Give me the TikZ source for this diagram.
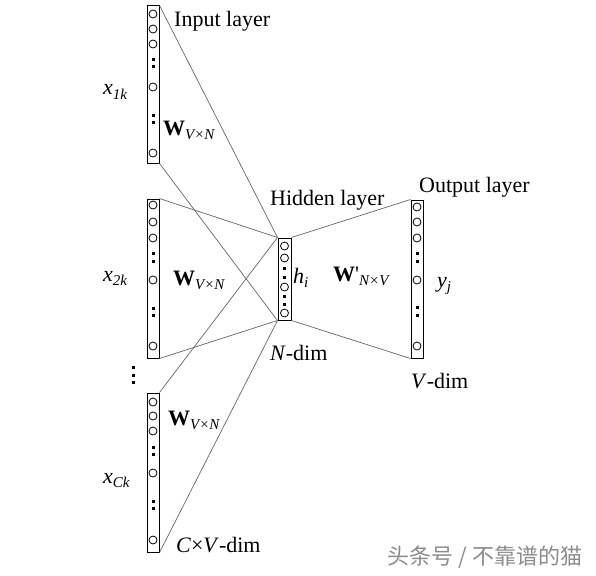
\documentclass[tikz,border=0pt]{standalone}
\usepackage{fontspec}
\setmainfont{Liberation Serif}
\newfontfamily\cjk{Noto Sans CJK SC}
\newcommand\lowsub[1]{\raisebox{-0.45ex}{\fontsize{15}{15}\selectfont\itshape #1}}
\begin{document}
\begin{tikzpicture}[x=1pt,y=-1pt,
 layerbox/.style={draw=black, line width=1pt, inner sep=0pt, minimum width=12pt},
 unit/.style={circle, draw=black, line width=0.8pt, inner sep=0pt, minimum size=8pt},
 dotsq/.style={fill=black, inner sep=0pt, minimum size=3pt},
 wire/.style={draw=black!60, line width=0.7pt},
 lbl/.style={font=\fontsize{22}{22}\selectfont, inner sep=0pt, anchor=base west}]
\useasboundingbox (0,0) rectangle (596,575);
\fill[white] (0,0) rectangle (596,575);

% layer boxes
\node[layerbox, minimum height=157pt] (in1) at (153,84.5) {};
\node[layerbox, minimum height=159pt] (in2) at (153,278.5) {};
\node[layerbox, minimum height=159pt] (in3) at (153,472.5) {};
\node[layerbox, minimum width=13pt, minimum height=82pt] (hid) at (284.5,279) {};
\node[layerbox, minimum height=158pt] (out) at (417,279) {};

% units
\foreach \y [count=\i] in {14,29,44,87,153} \node[unit] (a\i) at (153,\y) {};
\foreach \y [count=\i] in {60,67,115,122} \node[dotsq] (ad\i) at (153,\y) {};
\foreach \y [count=\i] in {205,222,238,280,346} \node[unit] (b\i) at (153,\y) {};
\foreach \y [count=\i] in {253,261,308,315} \node[dotsq] (bd\i) at (153,\y) {};
\foreach \y [count=\i] in {402,416,431,473,540} \node[unit] (c\i) at (153,\y) {};
\foreach \y [count=\i] in {447,454,501,508} \node[dotsq] (cd\i) at (153,\y) {};
\foreach \y [count=\i] in {246,258,287,313} \node[unit] (h\i) at (284.5,\y) {};
\foreach \y [count=\i] in {268,277,296,304} \node[dotsq] (hd\i) at (284.5,\y) {};
\foreach \y [count=\i] in {207,222,238,280,346} \node[unit] (o\i) at (417,\y) {};
\foreach \y [count=\i] in {253,261,307,315} \node[dotsq] (od\i) at (417,\y) {};
\foreach \y [count=\i] in {367,375,382} \node[dotsq] (vd\i) at (133,\y) {};

% connectors
\draw[wire] (in1.north east) -- (hid.north west);
\draw[wire] (in1.south east) -- (hid.south west);
\draw[wire] (in2.north east) -- (hid.north west);
\draw[wire] (in2.south east) -- (hid.south west);
\draw[wire] (in3.north east) -- (hid.north west);
\draw[wire] (in3.south east) -- (hid.south west);
\draw[wire] (hid.north east) -- (out.north west);
\draw[wire] (hid.south east) -- (out.south west);

% labels
\node[lbl] (tin) at (174,27) {Input layer};
\node[lbl] (thid) at (270,205) {Hidden layer};
\node[lbl] (tout) at (419,192) {Output layer};
\node[lbl] (tx1) at (103,95) {\textit{x}\lowsub{1k}};
\node[lbl] (tx2) at (103,281) {\textit{x}\lowsub{2k}};
\node[lbl] (tx3) at (103,483) {\textit{x}\lowsub{Ck}};
\node[lbl] (tw1) at (163,135) {\textbf{W}\lowsub{V×N}};
\node[lbl] (tw2) at (173,285) {\textbf{W}\lowsub{V×N}};
\node[lbl] (tw3) at (168,425) {\textbf{W}\lowsub{V×N}};
\node[lbl] (thi) at (293,283) {\textit{h}\lowsub{i}};
\node[lbl] (twp) at (333,281) {\textbf{W}\textquotesingle\lowsub{N×V}};
\node[lbl] (tyj) at (437,287) {\textit{y}\lowsub{j}};
\node[lbl] (tnd) at (270,360) {\textit{N}-dim};
\node[lbl] (tvd) at (411,388) {\textit{V}-dim};
\node[lbl] (tcv) at (176,552) {\textit{C}×\textit{V}-dim};
\node[font=\cjk\fontsize{22}{22}\selectfont, text=black!45, inner sep=0pt] (wm) at (485,557) {头条号 / 不靠谱的猫};
\end{tikzpicture}
\end{document}
